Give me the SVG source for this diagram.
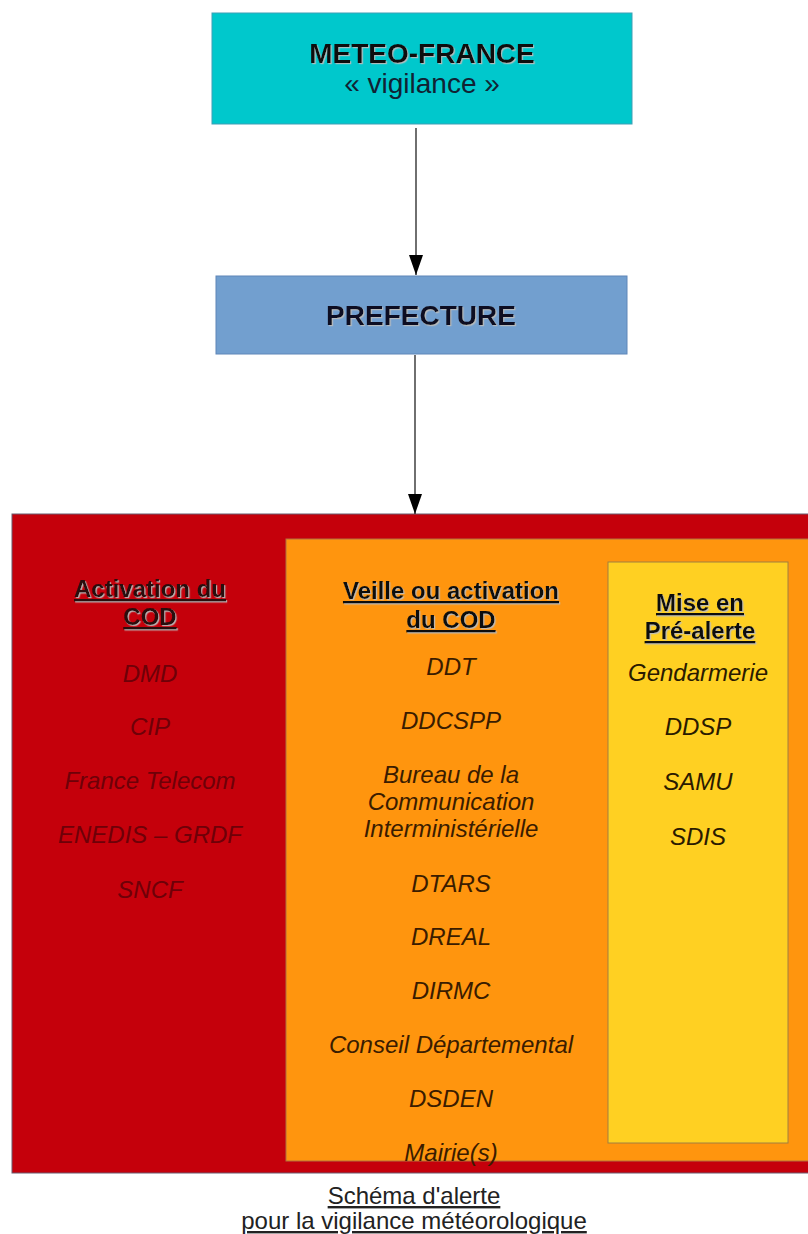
<svg xmlns="http://www.w3.org/2000/svg" width="808" height="1234" viewBox="0 0 808 1234">
<style>
text{font-family:"Liberation Sans",Arial,sans-serif;text-anchor:middle}
.b{font-weight:bold}
.h{font-weight:bold;font-size:24px;text-decoration:underline}
.i{font-style:italic;font-size:24px}
.red{fill:#6e0008}
.brn{fill:#3a1c00}
.dk{fill:#111}
.cap{font-size:24px;fill:#222;text-decoration:underline}
</style>
<defs>
<marker id="ar" markerWidth="20" markerHeight="14" refX="20" refY="7" orient="auto" markerUnits="userSpaceOnUse" viewBox="0 0 20 14">
<path d="M0,0 L20,7 L0,14 Z" fill="#000"/>
</marker>
<filter id="sh" x="-10%" y="-20%" width="130%" height="150%">
<feDropShadow dx="1.2" dy="1.2" stdDeviation="0.4" flood-color="#bbbbbb" flood-opacity="0.9"/>
</filter>
</defs>
<g id="meteo-france">
<rect x="212" y="13" width="420" height="111" fill="#00c8cc" stroke="#3f9fb5" stroke-width="1"/>
<text x="422" y="63" class="b dk" font-size="28" filter="url(#sh)">METEO-FRANCE</text>
<text x="422" y="93" font-size="28" fill="#123">« vigilance »</text>
</g>
<g id="prefecture">
<rect x="216" y="276" width="411" height="78" fill="#729fcf" stroke="#5f86b8" stroke-width="1"/>
<text x="421" y="325" class="b" font-size="28" fill="#101020" filter="url(#sh)">PREFECTURE</text>
</g>
<g id="zone-cod">
<rect x="12" y="514" width="810" height="659" fill="#c5000b" stroke="#6b5a6e" stroke-width="1"/>
<text x="150" y="597" class="h" fill="#2a0a0a" filter="url(#sh)">Activation du</text>
<text x="150" y="625" class="h" fill="#2a0a0a" filter="url(#sh)">COD</text>
<text x="150" y="682" class="i red">DMD</text>
<text x="150" y="735" class="i red">CIP</text>
<text x="150" y="789" class="i red">France Telecom</text>
<text x="150" y="843" class="i red">ENEDIS – GRDF</text>
<text x="150" y="898" class="i red">SNCF</text>
</g>
<g id="zone-veille">
<rect x="286" y="539" width="540" height="622" fill="#ff950e" stroke="#b07040" stroke-width="1"/>
<text x="451" y="599" class="h dk" filter="url(#sh)">Veille ou activation</text>
<text x="451" y="628" class="h dk" filter="url(#sh)">du COD</text>
<text x="451" y="675" class="i brn">DDT</text>
<text x="451" y="729" class="i brn">DDCSPP</text>
<text x="451" y="783" class="i brn">Bureau de la</text>
<text x="451" y="810" class="i brn">Communication</text>
<text x="451" y="837" class="i brn">Interministérielle</text>
<text x="451" y="892" class="i brn">DTARS</text>
<text x="451" y="945" class="i brn">DREAL</text>
<text x="451" y="999" class="i brn">DIRMC</text>
<text x="451" y="1053" class="i brn">Conseil Départemental</text>
<text x="451" y="1107" class="i brn">DSDEN</text>
<text x="451" y="1161" class="i brn">Mairie(s)</text>
</g>
<g id="zone-prealerte">
<rect x="608" y="562" width="180" height="581" fill="#ffd022" stroke="#a08040" stroke-width="1"/>
<text x="700" y="611" class="h dk" filter="url(#sh)">Mise en</text>
<text x="700" y="639" class="h dk" filter="url(#sh)">Pré-alerte</text>
<text x="698" y="681" class="i" fill="#2a1a00">Gendarmerie</text>
<text x="698" y="735" class="i" fill="#2a1a00">DDSP</text>
<text x="698" y="790" class="i" fill="#2a1a00">SAMU</text>
<text x="698" y="845" class="i" fill="#2a1a00">SDIS</text>
</g>
<g id="connectors" stroke="#222" stroke-width="1.3" fill="none">
<line x1="416" y1="128" x2="416" y2="275" marker-end="url(#ar)"/>
<line x1="415" y1="355" x2="415" y2="514" marker-end="url(#ar)"/>
</g>
<g id="caption">
<text x="414" y="1204" class="cap">Schéma d'alerte </text>
<text x="414" y="1229" class="cap">pour la vigilance météorologique</text>
</g>
</svg>
